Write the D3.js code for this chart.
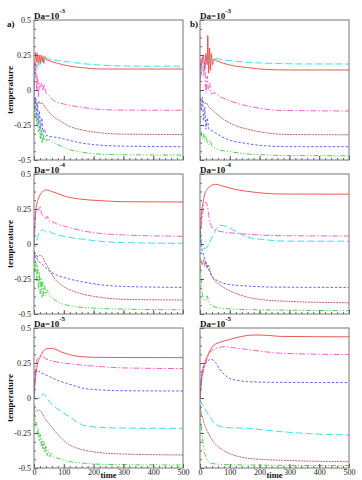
<!DOCTYPE html>
<html>
<head>
<meta charset="utf-8">
<script src="https://cdnjs.cloudflare.com/ajax/libs/d3/7.8.5/d3.min.js"></script>
<style>
  body { margin: 0; background: #fff; }
  text { font-family: "Liberation Serif", "DejaVu Serif", serif; }
</style>
</head>
<body>
<div id="main"></div>
<script>

//===============DATA=========================================
var seriesNames = ["red", "cyan", "magenta", "brown", "blue", "green"];
var exponents = ["-3", "-4", "-5"];
var panelTags = ["a)", "b)"];
var timeTicks = [0, 100, 200, 300, 400, 500];
var tempTicks = [-0.5, -0.25, 0, 0.25, 0.5];
var tempTickLabels = ["-0.5", "-0.25", "0", "0.25", "0.5"];

// each panel: one list of [time, temperature] points per series, same order as seriesNames
var panelA3 = [
  [[0,0.1],[3,0.2],[6,0.27],[9,0.2],[12,0.26],[15,0.18],[18,0.25],[21,0.19],[24,0.25],[27,0.2],[30,0.24],[33,0.19],[36,0.24],[40,0.22],[50,0.21],[80,0.19],[120,0.17],[160,0.16],[220,0.15],[300,0.15],[500,0.15]],
  [[0,0.0],[4,0.12],[8,0.18],[12,0.15],[16,0.2],[20,0.18],[26,0.21],[32,0.2],[40,0.23],[50,0.22],[80,0.21],[120,0.2],[180,0.185],[250,0.175],[350,0.17],[500,0.17]],
  [[0,-0.05],[3,0.1],[6,0.2],[9,0.0],[12,0.1],[15,-0.05],[18,0.05],[22,0.02],[26,0.05],[30,0.0],[34,0.04],[40,-0.02],[50,-0.04],[70,-0.08],[100,-0.1],[150,-0.12],[200,-0.135],[280,-0.143],[500,-0.145]],
  [[0,-0.05],[4,-0.1],[8,-0.09],[12,-0.1],[16,-0.08],[20,-0.1],[25,-0.09],[30,-0.1],[40,-0.13],[60,-0.18],[87,-0.22],[120,-0.26],[160,-0.285],[220,-0.305],[300,-0.315],[500,-0.318]],
  [[0,-0.05],[3,-0.15],[6,-0.05],[9,-0.2],[12,-0.1],[15,-0.25],[18,-0.15],[22,-0.28],[26,-0.2],[30,-0.3],[35,-0.28],[40,-0.32],[50,-0.33],[80,-0.34],[110,-0.355],[150,-0.375],[200,-0.39],[280,-0.4],[500,-0.405]],
  [[0,-0.1],[3,-0.2],[6,-0.15],[9,-0.25],[12,-0.2],[15,-0.3],[18,-0.24],[21,-0.35],[24,-0.27],[27,-0.38],[30,-0.3],[34,-0.36],[38,-0.33],[42,-0.36],[50,-0.355],[65,-0.375],[80,-0.39],[110,-0.42],[150,-0.44],[200,-0.455],[280,-0.462],[500,-0.465]]
];
var panelB3 = [
  [[0,0.1],[4,0.22],[8,0.2],[12,0.24],[16,0.15],[20,0.26],[24,0.18],[26,0.39],[29,0.12],[32,0.3],[35,0.14],[38,0.26],[42,0.18],[46,0.22],[55,0.21],[80,0.19],[120,0.17],[160,0.16],[220,0.147],[300,0.143],[500,0.143]],
  [[0,0.05],[5,0.15],[10,0.2],[15,0.17],[20,0.19],[25,0.2],[30,0.21],[40,0.22],[50,0.225],[80,0.215],[120,0.205],[180,0.195],[250,0.19],[350,0.186],[500,0.186]],
  [[0,0.0],[4,0.15],[8,0.25],[12,0.1],[16,0.2],[20,-0.02],[24,0.1],[28,0.0],[32,0.05],[38,-0.03],[47,-0.02],[70,-0.05],[103,-0.08],[150,-0.11],[200,-0.13],[260,-0.145],[500,-0.15]],
  [[0,-0.05],[5,-0.09],[10,-0.08],[15,-0.1],[20,-0.09],[30,-0.12],[50,-0.16],[80,-0.21],[120,-0.255],[160,-0.28],[220,-0.305],[300,-0.318],[500,-0.32]],
  [[0,0.0],[4,-0.15],[8,-0.05],[12,-0.22],[16,-0.12],[20,-0.28],[24,-0.2],[30,-0.28],[40,-0.29],[47,-0.3],[70,-0.33],[103,-0.36],[150,-0.38],[200,-0.395],[300,-0.405],[500,-0.405]],
  [[0,-0.2],[4,-0.3],[8,-0.35],[12,-0.31],[16,-0.36],[20,-0.33],[25,-0.38],[30,-0.39],[34,-0.36],[40,-0.4],[47,-0.41],[70,-0.43],[100,-0.44],[150,-0.455],[200,-0.462],[300,-0.468],[500,-0.47]]
];
var panelA4 = [
  [[0,0.0],[3,0.15],[6,0.24],[9,0.28],[14,0.32],[20,0.35],[30,0.375],[42,0.386],[60,0.375],[80,0.36],[109,0.338],[150,0.322],[220,0.31],[300,0.302],[500,0.3]],
  [[0,0.0],[5,-0.02],[10,0.02],[15,0.07],[20,0.09],[26,0.1],[31,0.1],[40,0.085],[50,0.09],[60,0.08],[80,0.065],[109,0.05],[150,0.038],[220,0.02],[300,0.01],[500,0.005]],
  [[0,0.0],[5,0.2],[10,0.25],[15,0.24],[20,0.27],[25,0.22],[30,0.2],[35,0.19],[40,0.175],[45,0.2],[50,0.165],[60,0.16],[80,0.14],[109,0.124],[150,0.1],[220,0.076],[300,0.065],[500,0.055]],
  [[0,-0.05],[5,-0.1],[10,-0.09],[15,-0.085],[20,-0.08],[28,-0.09],[35,-0.12],[45,-0.16],[53,-0.19],[70,-0.25],[90,-0.29],[109,-0.316],[150,-0.35],[220,-0.38],[300,-0.395],[500,-0.4]],
  [[0,-0.05],[4,-0.1],[8,-0.08],[12,-0.12],[20,-0.13],[31,-0.15],[50,-0.19],[80,-0.225],[109,-0.245],[150,-0.265],[220,-0.29],[300,-0.303],[500,-0.31]],
  [[0,-0.1],[3,-0.2],[6,-0.12],[9,-0.27],[12,-0.15],[15,-0.32],[18,-0.2],[21,-0.36],[24,-0.24],[27,-0.38],[30,-0.27],[33,-0.37],[36,-0.3],[40,-0.37],[45,-0.33],[53,-0.364],[70,-0.4],[90,-0.425],[109,-0.436],[150,-0.45],[220,-0.46],[300,-0.465],[500,-0.47]]
];
var panelB4 = [
  [[0,0.0],[3,0.15],[6,0.24],[9,0.28],[15,0.35],[24,0.39],[35,0.415],[53,0.426],[75,0.415],[100,0.4],[130,0.385],[159,0.376],[220,0.362],[270,0.357],[500,0.356]],
  [[0,0.11],[3,0.05],[6,0.0],[10,-0.03],[20,-0.03],[30,0.0],[45,0.07],[60,0.12],[70,0.133],[90,0.125],[120,0.09],[159,0.05],[220,0.03],[300,0.02],[500,0.02]],
  [[0,0.05],[5,0.15],[10,0.24],[15,0.29],[20,0.3],[25,0.27],[30,0.2],[35,0.15],[40,0.12],[50,0.1],[67,0.09],[100,0.08],[159,0.07],[250,0.06],[500,0.057]],
  [[0,-0.1],[4,-0.12],[8,-0.15],[12,-0.11],[16,-0.16],[20,-0.13],[24,-0.17],[28,-0.15],[32,-0.18],[40,-0.23],[60,-0.28],[96,-0.33],[130,-0.36],[159,-0.38],[220,-0.4],[300,-0.41],[500,-0.42]],
  [[0,0.12],[3,0.0],[7,-0.04],[15,-0.1],[27,-0.17],[40,-0.23],[67,-0.27],[100,-0.29],[159,-0.3],[250,-0.308],[500,-0.31]],
  [[0,-0.15],[4,-0.25],[8,-0.36],[14,-0.4],[20,-0.4],[24,-0.37],[28,-0.4],[35,-0.43],[50,-0.45],[96,-0.463],[200,-0.47],[500,-0.476]]
];
var panelA5 = [
  [[0,0.0],[3,0.1],[6,0.16],[9,0.21],[14,0.26],[20,0.29],[30,0.33],[40,0.35],[53,0.355],[70,0.35],[90,0.33],[109,0.316],[140,0.3],[164,0.295],[220,0.29],[500,0.288]],
  [[0,0.0],[5,-0.01],[15,0.0],[22,0.0],[31,0.03],[40,0.01],[53,-0.03],[80,-0.08],[109,-0.12],[140,-0.165],[164,-0.193],[220,-0.21],[300,-0.215],[500,-0.217]],
  [[0,0.0],[3,0.15],[8,0.25],[15,0.29],[25,0.3],[40,0.28],[60,0.265],[90,0.252],[109,0.247],[160,0.235],[220,0.225],[300,0.215],[500,0.21]],
  [[0,-0.05],[5,-0.1],[10,-0.09],[17,-0.086],[25,-0.1],[35,-0.14],[53,-0.19],[80,-0.26],[109,-0.32],[140,-0.355],[164,-0.37],[220,-0.39],[300,-0.4],[500,-0.407]],
  [[0,0.0],[3,0.15],[7,0.2],[12,0.195],[25,0.18],[53,0.152],[80,0.125],[109,0.105],[140,0.085],[164,0.07],[220,0.058],[300,0.052],[500,0.05]],
  [[0,-0.1],[3,-0.15],[6,-0.2],[9,-0.17],[12,-0.26],[15,-0.22],[18,-0.31],[21,-0.26],[24,-0.34],[27,-0.29],[30,-0.37],[33,-0.31],[36,-0.39],[40,-0.34],[44,-0.41],[48,-0.37],[53,-0.42],[58,-0.39],[65,-0.42],[80,-0.43],[109,-0.45],[164,-0.465],[250,-0.475],[500,-0.479]]
];
var panelB5 = [
  [[0,0.0],[3,0.08],[8,0.18],[14,0.236],[25,0.3],[35,0.345],[48,0.379],[70,0.4],[103,0.42],[140,0.44],[181,0.45],[230,0.447],[270,0.44],[500,0.437]],
  [[0,-0.014],[10,-0.05],[22,-0.097],[35,-0.14],[48,-0.18],[65,-0.2],[81,-0.21],[159,-0.217],[220,-0.23],[270,-0.24],[370,-0.255],[500,-0.264]],
  [[0,0.0],[4,0.1],[10,0.18],[14,0.21],[25,0.29],[35,0.33],[48,0.35],[65,0.36],[81,0.367],[110,0.36],[159,0.347],[220,0.33],[270,0.32],[500,0.31]],
  [[0,-0.05],[4,-0.1],[9,-0.14],[14,-0.18],[19,-0.21],[30,-0.26],[48,-0.32],[75,-0.37],[103,-0.4],[159,-0.43],[220,-0.44],[300,-0.447],[500,-0.455]],
  [[0,0.0],[4,0.12],[9,0.21],[20,0.25],[37,0.276],[50,0.26],[65,0.21],[81,0.17],[100,0.14],[126,0.126],[159,0.117],[250,0.112],[500,0.11]],
  [[0,-0.1],[4,-0.2],[9,-0.3],[14,-0.38],[20,-0.42],[26,-0.45],[35,-0.465],[48,-0.47],[100,-0.477],[500,-0.483]]
];

//===============STYLES===================
var colors = {red: "#e8463c", cyan: "#22dcee", magenta: "#ff48c8", brown: "#b25a5a", blue: "#5050ff", green: "#33cc33"};
var dashes = {red: null, cyan: "7,3", magenta: "6,2,1.5,2", brown: "2,0.8", blue: "2.5,1.8", green: "5,2,1.2,2,1.2,2"};

//===============LAYOUT===================
var width = 362, height = 480,
    colX = [34, 200], panelW = 149,
    rowY = [20, 174, 328], panelH = 140;

var svg = d3.select("#main").append("svg")
    .attr("width", width)
    .attr("height", height);

var panels = [
  {row: 0, col: 0, data: panelA3}, {row: 0, col: 1, data: panelB3},
  {row: 1, col: 0, data: panelA4}, {row: 1, col: 1, data: panelB4},
  {row: 2, col: 0, data: panelA5}, {row: 2, col: 1, data: panelB5}
];

var x = d3.scaleLinear().domain([0, 500]).range([0, panelW]);
var y = d3.scaleLinear().domain([-0.5, 0.5]).range([panelH, 0]);

var line = d3.line()
    .x(function(d){ return x(d[0]); })
    .y(function(d){ return y(d[1]); })
    .curve(d3.curveMonotoneX);

svg.append("defs").append("clipPath")
    .attr("id", "clip")
  .append("rect")
    .attr("width", panelW)
    .attr("height", panelH);

panels.forEach(function(p, i){

  var g = svg.append("g")
      .attr("transform", "translate(" + colX[p.col] + "," + rowY[p.row] + ")");

  // curves
  var lines = g.append("g").attr("clip-path", "url(#clip)");
  p.data.forEach(function(pts, k){
    var name = seriesNames[k];
    lines.append("path")
        .datum(pts)
        .attr("d", line)
        .attr("fill", "none")
        .attr("stroke", colors[name])
        .attr("stroke-width", 0.9)
        .attr("stroke-dasharray", dashes[name]);
  });

  // minor ticks, pointing inward
  g.append("g")
      .call(d3.axisLeft(y).tickValues(d3.range(-0.5, 0.5001, 0.0625)).tickSize(-2).tickFormat(""))
      .call(function(a){ a.select(".domain").remove(); a.selectAll("line").attr("stroke", "#666"); });
  g.append("g")
      .attr("transform", "translate(0," + panelH + ")")
      .call(d3.axisBottom(x).tickValues(d3.range(0, 501, 20)).tickSize(-2).tickFormat(""))
      .call(function(a){ a.select(".domain").remove(); a.selectAll("line").attr("stroke", "#666"); });

  // major ticks + labels
  var yAxis = d3.axisLeft(y).tickValues(tempTicks).tickSize(-4).tickPadding(3)
      .tickFormat(function(d, j){ return p.col === 0 ? tempTickLabels[j] : ""; });
  g.append("g")
      .call(yAxis)
      .call(function(a){
        a.select(".domain").remove();
        a.selectAll("line").attr("stroke", "#555");
        a.selectAll("text").attr("font-family", "Liberation Serif").attr("font-size", 8).attr("fill", "#222");
      });

  var xAxis = d3.axisBottom(x).tickValues(timeTicks).tickSize(-4).tickPadding(1)
      .tickFormat(function(d){ return p.row === 2 ? d : ""; });
  g.append("g")
      .attr("transform", "translate(0," + panelH + ")")
      .call(xAxis)
      .call(function(a){
        a.select(".domain").remove();
        a.selectAll("line").attr("stroke", "#555");
        a.selectAll("text").attr("font-family", "Liberation Serif").attr("font-size", 8).attr("fill", "#222");
      });

  // frame
  g.append("rect")
      .attr("width", panelW)
      .attr("height", panelH)
      .attr("fill", "none")
      .attr("stroke", "#777")
      .attr("stroke-width", 1);

  // title Da=10^-n
  var title = g.append("text")
      .attr("x", 0)
      .attr("y", -1)
      .attr("font-size", 9)
      .attr("font-weight", "bold")
      .attr("fill", "#111");
  title.append("tspan").text("Da=10");
  title.append("tspan")
      .attr("dy", -6)
      .attr("font-size", 7)
      .text(exponents[p.row]);

  if (p.row === 0) {
    g.append("text")
        .attr("x", p.col === 0 ? -27 : -10)
        .attr("y", 7)
        .attr("font-size", 9)
        .attr("font-weight", "bold")
        .attr("fill", "#111")
        .text(panelTags[p.col]);
  }

  if (p.col === 0) {
    g.append("text")
        .attr("transform", "translate(-21," + panelH / 2 + ") rotate(-90)")
        .attr("text-anchor", "middle")
        .attr("font-size", 9)
        .attr("font-weight", "bold")
        .attr("fill", "#111")
        .text("temperature");
  }

  if (p.row === 2) {
    g.append("text")
        .attr("x", panelW / 2)
        .attr("y", panelH + 10)
        .attr("text-anchor", "middle")
        .attr("font-size", 8.5)
        .attr("font-weight", "bold")
        .attr("fill", "#111")
        .text("time");
  }
});

</script>
</body>
</html>
